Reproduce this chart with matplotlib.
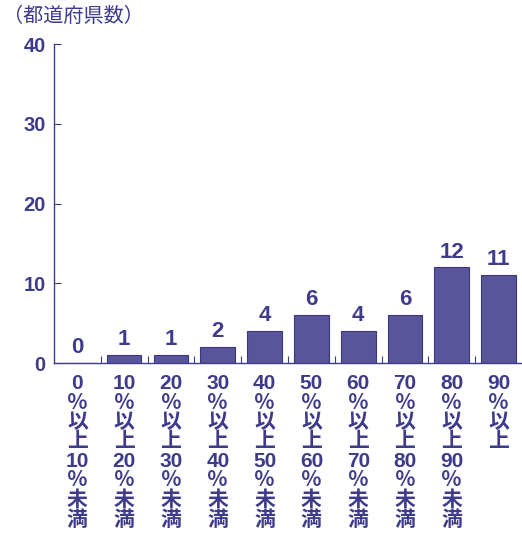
import matplotlib.pyplot as plt
import numpy as np

# data
lower = ['0', '10', '20', '30', '40', '50', '60', '70', '80', '90']
upper = ['10', '20', '30', '40', '50', '60', '70', '80', '90', None]
counts = [0, 1, 1, 2, 4, 6, 4, 6, 12, 11]

ink = '#3e3b8a'
bar_color = '#58559a'
fonts = ['Liberation Sans', 'Noto Sans CJK JP']
plt.rcParams['font.family'] = fonts

labels = []
for lo, hi in zip(lower, upper):
    s = lo + '\n％\n以\n上'
    if hi is not None:
        s += '\n' + hi + '\n％\n未\n満'
    labels.append(s)

fig = plt.figure(figsize=(5.22, 5.34), dpi=100)
ax = fig.add_axes([0.1034, 0.3202, 0.8966, 0.5974])

x = np.arange(len(counts))
bars = ax.bar(x, counts, width=0.74, color=bar_color, edgecolor='#3a3780', linewidth=0.8)

# value labels above bars
for xi, v in zip(x, counts):
    ax.text(xi, v + 0.6, str(v), ha='center', va='bottom', fontsize=16,
            fontweight='bold', color=ink)

ax.set_xlim(-0.5, len(counts) - 0.5)
ax.set_ylim(0, 40)
ax.set_yticks([0, 10, 20, 30, 40])
ax.set_xticks(x)
ax.set_xticklabels(labels, fontsize=15, color=ink, linespacing=1.03, fontweight='bold')
ax.set_xticks(np.arange(0.5, len(counts) - 1, 1), minor=True)
ax.tick_params(axis='x', which='major', length=0, pad=8)
ax.tick_params(axis='x', which='minor', direction='in', length=5, color=ink, width=0.8)
ax.tick_params(axis='y', direction='in', length=5, color=ink, width=0.8,
               labelsize=14.5, labelcolor=ink, pad=6)
for lab in ax.get_yticklabels():
    lab.set_fontweight('bold')

for side in ['top', 'right']:
    ax.spines[side].set_visible(False)
for side in ['left', 'bottom']:
    ax.spines[side].set_color(ink)
    ax.spines[side].set_linewidth(1.0)

fig.text(0.005, 0.988, '（都道府県数）', ha='left', va='top', fontsize=14.5,
         color=ink, family=['Noto Sans CJK JP'])

fig.savefig('out.png', dpi=100)
